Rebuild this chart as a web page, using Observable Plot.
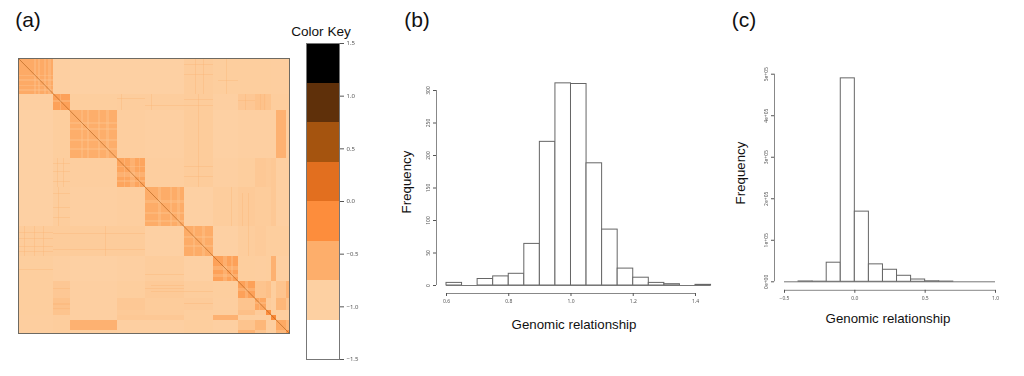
<!DOCTYPE html>
<html>
<head>
<meta charset="utf-8">
<script src="https://cdn.jsdelivr.net/npm/d3@7"></script>
<script src="https://cdn.jsdelivr.net/npm/@observablehq/plot@0.6"></script>
<style>
html,body{margin:0;padding:0;background:#fff;}
#page{position:relative;width:1024px;height:376px;overflow:hidden;font-family:"Liberation Sans",Arial,sans-serif;}
.panel{position:absolute;filter:blur(0.35px);}
.panel.soft{filter:blur(0.6px);}
.panel svg{display:block;background:transparent;}
.tag{position:absolute;color:#111;white-space:nowrap;}
</style>
</head>
<body>
<div id="page"></div>
<script>
// Heat map: cluster boundaries (sample position) and relationship values
const groupEdges = [0,105,155,297,381,498,585,660,710,745,760,775,803,813];
const groupValues = [
 [-.52,-.93,-.94,-.94,-.94,-.89,-.91,-.91,-.91,-.91,-.92,-.92,-.92],
 [-.93,-.42,-.91,-.90,-.90,-.89,-.93,-.84,-.78,-.80,-.90,-.90,-.90],
 [-.94,-.91,-.56,-.92,-.93,-.89,-.94,-.93,-.93,-.93,-.93,-.60,-.92],
 [-.94,-.90,-.92,-.46,-.92,-.89,-.93,-.91,-.85,-.87,-.85,-.93,-.93],
 [-.94,-.90,-.93,-.92,-.54,-.94,-.90,-.87,-.89,-.89,-.85,-.93,-.93],
 [-.89,-.89,-.89,-.89,-.94,-.54,-.94,-.90,-.88,-.91,-.91,-.91,-.91],
 [-.91,-.93,-.94,-.93,-.90,-.94,-.42,-.91,-.92,-.91,-.60,-.93,-.93],
 [-.91,-.84,-.93,-.91,-.87,-.90,-.91,-.42,-.80,-.76,-.91,-.80,-.62],
 [-.91,-.78,-.93,-.85,-.89,-.88,-.92,-.80,-.48,-.88,-.92,-.66,-.80],
 [-.91,-.80,-.93,-.87,-.89,-.91,-.91,-.76,-.88,-.20,-.91,-.92,-.92],
 [-.92,-.90,-.93,-.85,-.85,-.91,-.60,-.91,-.92,-.91,-.15,-.92,-.91],
 [-.92,-.90,-.60,-.93,-.93,-.91,-.93,-.80,-.66,-.92,-.92,-.50,-.66],
 [-.92,-.90,-.92,-.93,-.93,-.91,-.93,-.62,-.80,-.92,-.91,-.66,-.30]
];
// Paler sub-bands inside the diagonal clusters: [group, start, end]
const clusterBands = [
 [0,49,54],[0,61,67],[0,79,83],[0,91,98],
 [1,125,130],
 [2,188,194],[2,206,213],[2,240,246],[2,265,272],
 [3,318,322],[3,336,351],[3,362,366],
 [4,420,428],[4,455,462],[4,478,485],
 [5,525,532],[5,552,560],
 [6,615,628],[6,640,646],
 [7,680,690],
 [8,722,726]
];
// Speckled lines in off-diagonal blocks: [x1,x2,y1,y2]
const speckles = [
 [0,105,515,517],[0,105,532,534],[0,105,556,558],[0,105,572,574],
 [105,381,518,520],[105,381,540,542],[105,381,566,568],
 [18,20,498,585],[48,50,498,585],[76,78,498,585],[122,124,498,585],[140,142,498,585],
 [170,172,498,585],[215,217,498,585],[262,264,498,585],[320,322,498,585],[350,352,498,585],
 [105,155,310,312],[105,155,335,337],[105,155,365,367],
 [105,155,400,402],[105,155,440,442],[105,155,470,472],
 [297,381,118,120],[297,381,135,137],[381,498,120,122],[381,498,140,142],
 [400,498,672,675],[400,498,690,692],[105,155,725,729],[105,155,738,741],
 [600,660,20,22],[625,627,0,105],[600,660,65,67],[660,710,125,127],[680,683,105,155],
 [640,642,381,498],[680,682,381,498],[690,692,498,585],[725,727,498,585]
];
const keyBreaks = [-1.5,-1.125,-.75,-.375,0,.375,.75,1.125,1.5];
const keyColors = ["#ffffff","#fdd0a2","#fdae6b","#fd8d3c","#e26f1f","#a5540f","#5f300a","#000000"];
const keyTicks = [-1.5,-1,-.5,0,.5,1,1.5];

// Histogram (b)
const binsB = [.6,.65,.7,.75,.8,.85,.9,.95,1,1.05,1.1,1.15,1.2,1.25,1.3,1.35,1.4];
const countsB = [4,0,10,14,18,64,221,311,310,188,86,26,12,4,2,0,1];
const ticksXB = [.6,.8,1,1.2,1.4];
const ticksYB = [0,50,100,150,200,250,300];
// Histogram (c)
const binsC = [-.5,-.4,-.3,-.2,-.1,0,.1,.2,.3,.4,.5,.6,.7,.8,.9];
const countsC = [0,800,300,46000,490000,169000,42000,29000,14500,5500,1200,500,0,0,0];
const ticksXC = [-.5,0,.5,1];
const ticksYC = [0,1e5,2e5,3e5,4e5,5e5];

const page = document.getElementById("page");
function place(svg,left,top,cls){
  const d=document.createElement("div");d.className="panel"+(cls?" "+cls:"");d.style.left=left+"px";d.style.top=top+"px";
  d.appendChild(svg);page.appendChild(d);
}
function tag(text,cx,cy,size){
  const d=document.createElement("div");d.className="tag";d.textContent=text;
  d.style.left=cx+"px";d.style.top=cy+"px";d.style.fontSize=size+"px";d.style.transform="translate(-50%,-50%)";
  page.appendChild(d);
}
const keyCenters = keyColors.map((c,i)=>(keyBreaks[i]+keyBreaks[i+1])/2);
const heatColor = {type:"linear",domain:keyCenters,range:keyColors,interpolate:"rgb",clamp:true};

// panel (a)
const cells=[];
groupValues.forEach((row,i)=>row.forEach((v,j)=>cells.push({x1:groupEdges[j],x2:groupEdges[j+1],y1:groupEdges[i],y2:groupEdges[i+1],v})));
const bandRects=[];
clusterBands.forEach(([g,a,b])=>{
  const s=groupEdges[g],e=groupEdges[g+1],v=-.85;
  bandRects.push({x1:a,x2:b,y1:s,y2:e,v},{x1:s,x2:e,y1:a,y2:b,v});
});
const speckleRects=speckles.flatMap(([a,b,c,d])=>[{x1:a,x2:b,y1:c,y2:d,v:-.6},{x1:c,x2:d,y1:a,y2:b,v:-.6}]);
place(Plot.plot({
  width:273,height:277,margin:1,
  x:{domain:[0,813],axis:null},
  y:{domain:[813,0],axis:null},
  color:heatColor,
  marks:[
    Plot.rect(cells,{x1:"x1",x2:"x2",y1:"y1",y2:"y2",fill:"v",shapeRendering:"crispEdges"}),
    Plot.rect(bandRects,{x1:"x1",x2:"x2",y1:"y1",y2:"y2",fill:"v",fillOpacity:.35,shapeRendering:"crispEdges"}),
    Plot.rect(speckleRects,{x1:"x1",x2:"x2",y1:"y1",y2:"y2",fill:"v",fillOpacity:.32,shapeRendering:"crispEdges"}),
    Plot.link([{a:0,b:813}],{x1:"a",y1:"a",x2:"b",y2:"b",stroke:"#a5540f",strokeWidth:1,strokeOpacity:.55}),
    Plot.frame({stroke:"#6e6a62",strokeWidth:1})
  ]
}),17,57,"soft");

// colour key
const keyCells=keyColors.map((c,i)=>({y1:keyBreaks[i],y2:keyBreaks[i+1],c}));
place(Plot.plot({
  width:70,height:326,marginLeft:6,marginRight:31,marginTop:5,marginBottom:5,
  x:{domain:[0,1],axis:null},
  y:{domain:[-1.5,1.5],axis:null},
  marks:[
    Plot.rect(keyCells,{x1:0,x2:1,y1:"y1",y2:"y2",fill:"c",shapeRendering:"crispEdges"}),
    Plot.frame({stroke:"#777",strokeWidth:1}),
    Plot.axisY({anchor:"right",ticks:keyTicks,tickSize:4,tickPadding:3,fontSize:6,color:"#555",tickFormat:d3.format(".1f"),label:null})
  ]
}),300,38);
tag("Color Key",321,31,13.6);

// histograms
function hist({bins,counts,step,xDomain,yDomain,ticksX,ticksY,fmtX,fmtY,axisLeft,axisBottom,xSpan,ySpan,baseSpan,w,h,ml,mr,mt,mb}){
  const rows=bins.map((b,i)=>({x1:b,x2:b+step,y:counts[i]}));
  return Plot.plot({
    width:w,height:h,marginLeft:ml,marginRight:mr,marginTop:mt,marginBottom:mb,
    x:{domain:xDomain},
    y:{domain:yDomain},
    marks:[
      Plot.rect(rows,{x1:"x1",x2:"x2",y1:0,y2:"y",fill:"white",stroke:"#666",strokeWidth:1}),
      Plot.ruleY([0],{x1:baseSpan[0],x2:baseSpan[1],stroke:"#777"}),
      Plot.ruleY([0],{x1:xSpan[0],x2:xSpan[1],dy:axisBottom,stroke:"#888"}),
      Plot.ruleX([xSpan[0]],{y1:ySpan[0],y2:ySpan[1],dx:-axisLeft,stroke:"#888"}),
      Plot.axisX({ticks:ticksX,tickFormat:fmtX,dy:axisBottom,tickSize:3,tickPadding:3,fontSize:5,color:"#555",label:null}),
      Plot.axisY({ticks:ticksY,tickFormat:fmtY,dx:-axisLeft,tickSize:3,tickPadding:4,fontSize:5,color:"#555",tickRotate:-90,label:null})
    ]
  });
}
const f1=d3.format(".1f");
const fe=d=>d===0?"0e+00":d3.format(".0e")(d).replace("e+","e+0");
place(hist({bins:binsB,counts:countsB,step:.05,xDomain:[.6,1.45],yDomain:[0,320],ticksX:ticksXB,ticksY:ticksYB,fmtX:f1,fmtY:d3.format("d"),
  axisLeft:10,axisBottom:8,xSpan:[.6,1.4],ySpan:[0,300],baseSpan:[.6,1.45],w:330,h:270,ml:51,mr:14.45,mt:7,mb:55}),395,70);
tag("Genomic relationship",574,324,13.3);
tag("(b)",417,20,21);

place(hist({bins:binsC,counts:countsC,step:.1,xDomain:[-.5,1],yDomain:[0,5e5],ticksX:ticksXC,ticksY:ticksYC,fmtX:f1,fmtY:fe,
  axisLeft:10,axisBottom:8.5,xSpan:[-.5,1],ySpan:[0,5e5],baseSpan:[-.5,1],w:290,h:280,ml:59,mr:20,mt:13.7,mb:58.7}),725,60);
tag("Genomic relationship",888,318,13.3);
tag("(c)",744,20,21);
tag("(a)",28,20,21);

// rotated y titles
for(const [cx,cy] of [[406,182],[740,173]]){
  const d=document.createElement("div");d.className="tag";d.textContent="Frequency";d.style.fontSize="13.3px";
  d.style.left=cx+"px";d.style.top=cy+"px";d.style.transform="translate(-50%,-50%) rotate(-90deg)";page.appendChild(d);
}
</script>
</body>
</html>
